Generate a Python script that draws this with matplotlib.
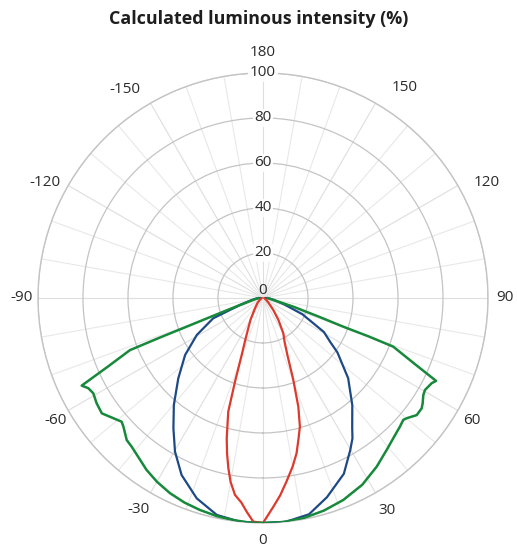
import numpy as np
import matplotlib
matplotlib.use('Agg')
import matplotlib.pyplot as plt

plt.rcParams['font.family'] = ['Open Sans', 'DejaVu Sans']

# angles in degrees (0 = straight down), intensity in %
red_angles = [-90, -60, -50, -37.8, -30, -25.9, -23, -20.5, -18.5, -17, -14.5,
              -13, -11.5, -10, -8.1, -6, -4.4, -2.5, 0,
              2.8, 5, 7.4, 10, 12.2, 14, 16, 18, 20.3, 23, 26, 29.9, 35,
              40.6, 50, 60, 90]
red_values = [0.5, 1.5, 3, 5.8, 11, 15, 20, 27, 39.2, 52.8, 64.4,
              71, 77.2, 83, 88.4, 91.5, 95.2, 99.5, 100,
              93, 88, 82, 76, 70.6, 65, 59.5, 50.8, 38.8, 28, 22, 18.1, 12,
              7, 3, 1.5, 0.5]

blue_angles = [-90, -85, -80, -73, -67.8, -60.8, -53.8, -46.5, -39.8, -34.5,
               -29.8, -24.7, -18.3, -12, -5.8, 0,
               5.8, 12, 17.8, 24.7, 29.8, 32.5, 34.5, 39.8, 46.7, 53.8, 56.6,
               60.8, 67.5, 73, 80, 85, 90]
blue_values = [1, 3, 5, 10.7, 23.9, 33.7, 42.9, 51.9, 61.9, 70.3,
               78.7, 86.6, 93.8, 98.6, 100, 100,
               100, 98.3, 93, 86, 78, 74, 70, 62, 52, 41, 36,
               31, 19, 10, 5, 3, 1]

green_angles = [-90, -80, -73.1, -70.3, -69.4, -69, -68.6, -66.1, -64.2, -62.7,
                -60.7, -57.7, -54.4, -51.2, -48.8, -47.3, -43.8, -41.4, -34.1,
                -30, -25.5, -21, -16.6, -12, -7.6, -3.5, 0,
                5, 10.4, 16, 21.7, 28, 34, 39.1, 45.4, 46.8, 49, 50.1, 52.7,
                55.2, 56.6, 58.8, 60.4, 63.2, 64.4, 66.5, 69.5, 70, 70.3, 71.5,
                74, 80, 90]
green_values = [2, 4, 10.7, 23.5, 36.2, 49, 63.5, 75.6, 89.5, 87.4,
                86.5, 87.5, 88.1, 85.3, 83.5, 84.4, 87.5, 88.2, 92.3,
                94.3, 96.1, 97.4, 98.3, 99.1, 99.6, 100, 100,
                100, 99.5, 98.3, 96.6, 94, 90.4, 87.1, 84, 83.5, 82.6, 83.3, 85.9,
                85.9, 85, 83.3, 82.8, 84, 85.3, 73.5, 61.8, 50, 38, 26,
                14, 4, 2]

theta_ticks = np.arange(0, 360, 30)
theta_labels = ['0', '30', '60', '90', '120', '150', '180',
                '-150', '-120', '-90', '-60', '-30']
r_ticks = [0, 20, 40, 60, 80, 100]

# where the angle labels sit outside the ring (deg shift, radius in data units)
label_shift = [0, 0.3, -0.3, 0, -2.8, -4, 0, 3.6, 2.2, 0, 0.7, -0.5]
label_r = [108, 109.3, 107.6, 107.6, 111.9, 112.7, 108.9, 111, 109.6, 107.1, 107, 109.3]

ring_color = '#c4c4c4'
spoke_color = '#e8e8e8'
text_color = '#2b2b2b'

fig = plt.figure(figsize=(5.17, 5.49), dpi=100)
ax = fig.add_axes([0.0735, 0.0474, 0.8704, 0.8197], projection='polar')
ax.set_theta_zero_location('S')
ax.set_theta_direction(1)

kw = dict(solid_joinstyle='round', solid_capstyle='round')
ax.plot(np.deg2rad(blue_angles), blue_values, color='#1d4a86', lw=1.6, zorder=3, **kw)
ax.plot(np.deg2rad(red_angles), red_values, color='#dc3a2c', lw=1.6, zorder=4, **kw)
ax.plot(np.deg2rad(green_angles), green_values, color='#16893a', lw=1.8, zorder=5, **kw)

ax.set_ylim(0, 100)
ax.set_yticks(r_ticks)
ax.set_yticklabels([])
ax.yaxis.grid(True, color=ring_color, lw=0.9)

ax.set_xticks(np.deg2rad(theta_ticks))
ax.set_xticklabels([])
ax.set_xticks(np.deg2rad(np.arange(0, 360, 10)), minor=True)
ax.xaxis.grid(True, which='major', color='#dedede', lw=0.8)
ax.xaxis.grid(True, which='minor', color=spoke_color, lw=0.8)
ax.tick_params(axis='x', which='both', length=0)
ax.spines['polar'].set_color(ring_color)
ax.spines['polar'].set_linewidth(1.0)

# angle labels
for t, lab, dt, rr in zip(theta_ticks, theta_labels, label_shift, label_r):
    ax.text(np.deg2rad(t + dt), rr, lab, ha='center', va='center', fontsize=11,
            color=text_color, clip_on=False)

# radial labels along the top spoke
for r in r_ticks:
    va = 'bottom' if r == 0 else 'center'
    ax.text(np.pi, r, str(r), ha='center', va=va, fontsize=11, color=text_color,
            zorder=6, bbox=dict(boxstyle='square,pad=0.1', fc='white', ec='none',
                                alpha=0.9 if r else 0))

fig.text(0.5, 0.966, 'Calculated luminous intensity (%)', ha='center', va='center',
         fontsize=12.9, fontweight='bold', color='#1e1e1e')

fig.savefig('out.png', dpi=100)
